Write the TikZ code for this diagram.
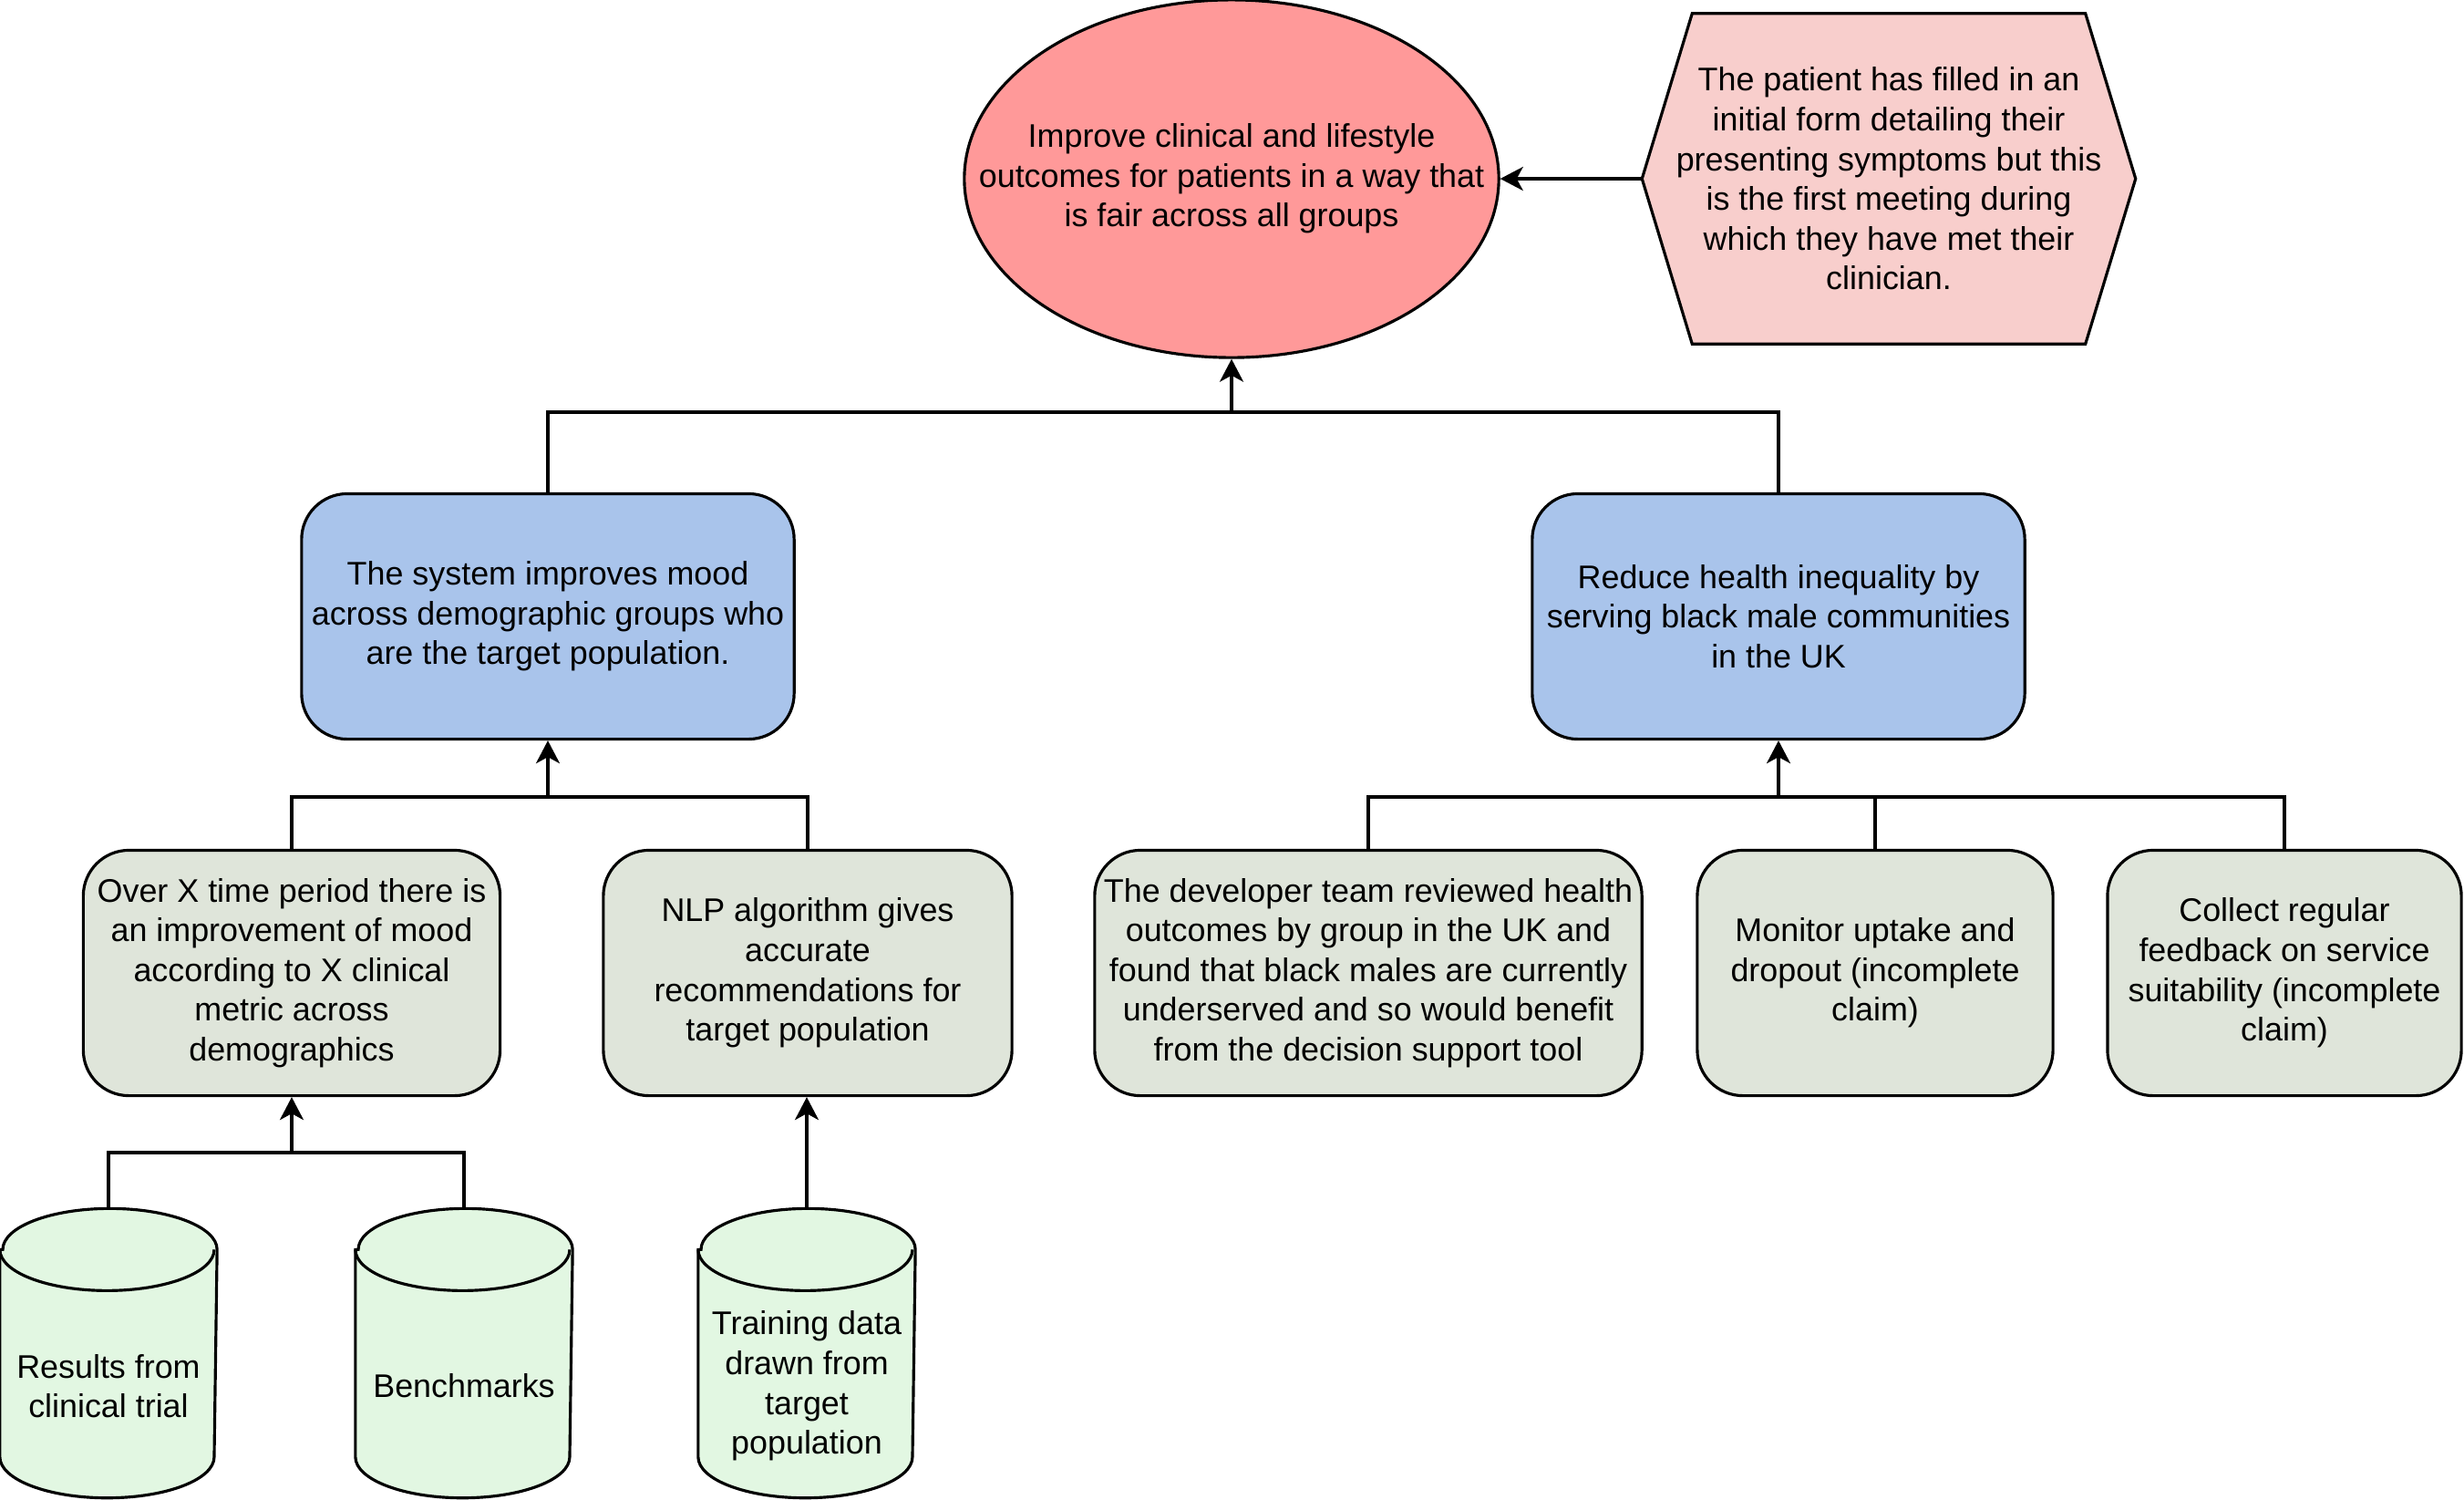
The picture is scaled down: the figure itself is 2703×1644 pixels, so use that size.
\documentclass[tikz,border=0pt]{standalone}
\usepackage{fontspec}
\setmainfont{Liberation Sans}
\usetikzlibrary{arrows.meta,calc,shapes.geometric,backgrounds}
\definecolor{goalred}{HTML}{FF9999}
\definecolor{ctxpink}{HTML}{F8CECC}
\definecolor{blueb}{HTML}{A9C4EB}
\definecolor{greeng}{HTML}{DFE5DA}
\definecolor{cylg}{HTML}{E2F7E2}
\begin{document}
\begin{tikzpicture}[x=0.01cm,y=-0.01cm,
  every node/.style={font=\fontsize{10.2}{12.4}\selectfont, align=center, line width=0.9pt, inner sep=0pt},
  goalst/.style={ellipse, draw, fill=goalred, inner xsep=-0.72cm, minimum width=5.86cm, minimum height=3.92cm},
  ctxst/.style={rectangle, minimum width=5.38cm, minimum height=3.59cm},
  bluest/.style={rectangle, rounded corners=0.5cm, draw, fill=blueb, minimum width=5.4cm, minimum height=2.69cm},
  greenst/.style={rectangle, rounded corners=0.5cm, draw, fill=greeng, minimum height=2.69cm},
  cylst/.style={rectangle, minimum width=2.35cm, minimum height=3.14cm},
  conn/.style={line width=0.9pt},
  arr/.style={conn, -{Stealth[length=0.25cm, width=0.26cm, inset=0.07cm]}}
]
\useasboundingbox (0,0) rectangle (2703,1644);

% nodes
\node[goalst] (goal) at (1351,196) {Improve clinical and lifestyle\\outcomes for patients in a way that\\is fair across all groups};
\node[ctxst] (ctx) at (2072,196) {The patient has filled in an\\initial form detailing their\\presenting symptoms but this\\is the first meeting during\\which they have met their\\clinician.};
\begin{scope}[on background layer]
\draw[line width=0.9pt, fill=ctxpink] (ctx.west) -- ($(ctx.north west)+(55,0)$) -- ($(ctx.north east)+(-55,0)$) -- (ctx.east) -- ($(ctx.south east)+(-55,0)$) -- ($(ctx.south west)+(55,0)$) -- cycle;
\end{scope}

\node[bluest] (b1) at (601,676) {The system improves mood\\across demographic groups who\\are the target population.};
\node[bluest] (b2) at (1951,676) {Reduce health inequality by\\serving black male communities\\in the UK};

\node[greenst, minimum width=4.57cm] (g1) at (320,1067) {Over X time period there is\\an improvement of mood\\according to X clinical\\metric across\\demographics};
\node[greenst, minimum width=4.48cm] (g2) at (886,1067) {NLP algorithm gives\\accurate\\recommendations for\\target population};
\node[greenst, minimum width=6.0cm] (g3) at (1501,1067) {The developer team reviewed health\\outcomes by group in the UK and\\found that black males are currently\\underserved and so would benefit\\from the decision support tool};
\node[greenst, minimum width=3.9cm] (g4) at (2057,1067) {Monitor uptake and\\dropout (incomplete\\claim)};
\node[greenst, minimum width=3.88cm] (g5) at (2506,1067) {Collect regular\\feedback on service\\suitability (incomplete\\claim)};

\node[cylst] (c1) at (119,1484) {};
\node[cylst] (c2) at (509,1484) {};
\node[cylst] (c3) at (885,1484) {};
\foreach \c in {c1,c2,c3} {
  \draw[line width=0.9pt, fill=cylg] ($(\c.north west)+(0,45)$) -- ($(\c.south west)+(0,-45)$)
    arc[start angle=180, end angle=360, x radius=1.175cm, y radius=0.45cm]
    -- ($(\c.north east)+(0,45)$)
    arc[start angle=0, end angle=180, x radius=1.175cm, y radius=0.45cm] -- cycle;
  \draw[line width=0.9pt] ($(\c.north west)+(0,45)$) arc[start angle=180, end angle=360, x radius=1.175cm, y radius=0.45cm];
}
\node (c1t) at (119,1520) {Results from\\clinical trial};
\node (c2t) at (509,1520) {Benchmarks};
\node (c3t) at (885,1520) {Training data\\drawn from\\target\\population};

% connectors
\coordinate (j1) at (1351,452);
\coordinate (j2) at (601,874);
\coordinate (j3) at (1951,874);
\coordinate (j4) at (320,1264);

\draw[arr] (ctx.west) -- (goal.east);
\draw[arr] (b1.north) |- (j1) -- (goal.south);
\draw[conn] (b2.north) |- (j1);
\draw[arr] (g1.north) |- (j2) -- (b1.south);
\draw[conn] (g2.north) |- (j2);
\draw[arr] (g3.north) |- (j3) -- (b2.south);
\draw[conn] (g4.north) -- (g4.north |- j3);
\draw[conn] (g5.north) |- (j3);
\draw[arr] (c1.north) |- (j4) -- (g1.south);
\draw[conn] (c2.north) |- (j4);
\draw[arr] (c3.north) -- (c3.north |- g2.south);
\end{tikzpicture}
\end{document}
